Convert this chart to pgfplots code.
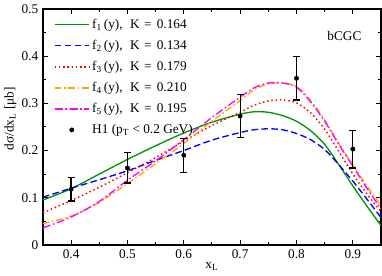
\documentclass[border=0pt]{standalone}
\usepackage{fontspec}
\setmainfont{Liberation Serif}
\usepackage{pgfplots}
\pgfplotsset{compat=1.18}
\definecolor{cgreen}{RGB}{0,150,0}
\definecolor{cblue}{RGB}{0,0,255}
\definecolor{cred}{RGB}{255,0,0}
\definecolor{corange}{RGB}{255,165,0}
\definecolor{cmag}{RGB}{255,0,255}
\newcommand{\lent}[2]{f\textsubscript{#1}\hspace{1.4pt}(y),\hspace{5.7pt}K\hspace{3.2pt}=\hspace{4pt}#2}
\begin{document}
\begin{tikzpicture}
\begin{axis}[
  scale only axis,
  width=254.5pt, height=177.6pt,
  xmin=0.35, xmax=0.95, ymin=0, ymax=0.5,
  xtick={0.4,0.5,0.6,0.7,0.8,0.9},
  ytick={0,0.1,0.2,0.3,0.4,0.5},
  minor x tick num=1, minor y tick num=1,
  tick align=inside,
  major tick length=4pt, minor tick length=2.2pt,
  tick style={black, line width=0.8pt},
  axis line style={line width=1pt},
  /pgf/number format/assume math mode=true,
  xlabel={x\textsubscript{L}},
  ylabel={dσ/dx\textsubscript{L} [μb]},
  xlabel style={yshift=4pt},
  ylabel style={at={(ticklabel cs:0.534)}, yshift=-3pt},
  legend cell align=left,
  legend style={draw=none, fill=none, at={(0.028,0.975)}, anchor=north west, row sep=3.3pt, inner sep=1pt},
  legend image code/.code={\draw[mark repeat=2,mark phase=2,#1] plot coordinates {(0pt,0pt) (12.85pt,0pt) (25.7pt,0pt)};},
]
\addplot[cgreen, line width=1pt, smooth] coordinates {
(0.35,0.095)(0.40,0.119)(0.45,0.150)(0.50,0.181)(0.55,0.210)(0.60,0.237)(0.65,0.260)
(0.70,0.277)(0.725,0.282)(0.75,0.281)(0.775,0.274)(0.80,0.262)(0.825,0.242)(0.85,0.213)
(0.875,0.170)(0.90,0.125)(0.925,0.082)(0.95,0.041)};
\addlegendentry{\lent{1}{0.164}}
\addplot[cblue, line width=1pt, smooth, dash pattern=on 5pt off 2.5pt] coordinates {
(0.35,0.101)(0.40,0.120)(0.45,0.138)(0.50,0.157)(0.55,0.179)(0.60,0.200)(0.65,0.222)
(0.70,0.238)(0.725,0.244)(0.75,0.246)(0.775,0.244)(0.80,0.236)(0.825,0.223)(0.85,0.202)
(0.875,0.170)(0.90,0.135)(0.925,0.097)(0.95,0.058)};
\addlegendentry{\lent{2}{0.134}}
\addplot[cred, line width=1.1pt, smooth, dash pattern=on 1.1pt off 2.1pt] coordinates {
(0.35,0.068)(0.40,0.094)(0.45,0.122)(0.50,0.153)(0.55,0.185)(0.60,0.220)(0.65,0.253)
(0.70,0.281)(0.725,0.296)(0.75,0.305)(0.775,0.307)(0.80,0.301)(0.825,0.280)(0.85,0.245)
(0.875,0.198)(0.90,0.150)(0.925,0.108)(0.95,0.070)};
\addlegendentry{\lent{3}{0.179}}
\addplot[corange, line width=1pt, smooth, dash pattern=on 5pt off 2pt on 1.2pt off 2pt] coordinates {
(0.35,0.045)(0.40,0.061)(0.45,0.090)(0.50,0.130)(0.55,0.172)(0.60,0.215)(0.65,0.262)
(0.70,0.306)(0.725,0.329)(0.75,0.341)(0.775,0.343)(0.80,0.336)(0.825,0.306)(0.85,0.265)
(0.875,0.215)(0.90,0.170)(0.925,0.125)(0.95,0.083)};
\addlegendentry{\lent{4}{0.210}}
\addplot[cmag, line width=1pt, smooth, dash pattern=on 6pt off 2pt on 1.2pt off 2pt] coordinates {
(0.35,0.036)(0.40,0.059)(0.45,0.092)(0.50,0.137)(0.55,0.178)(0.60,0.223)(0.65,0.270)
(0.70,0.313)(0.725,0.333)(0.75,0.343)(0.775,0.343)(0.80,0.334)(0.825,0.303)(0.85,0.262)
(0.875,0.213)(0.90,0.167)(0.925,0.120)(0.95,0.076)};
\addlegendentry{\lent{5}{0.195}}
\addplot[black, only marks, mark=*, mark size=1.6pt,
  error bars/.cd, y dir=both, y explicit,
  error bar style={line width=0.9pt},
  error mark options={rotate=90, mark size=2.6pt, line width=0.9pt}]
  coordinates {
(0.4,0.118) +- (0,0.025)
(0.5,0.163) +- (0,0.032)
(0.6,0.190) +- (0,0.036)
(0.7,0.273) +- (0,0.045)
(0.8,0.353) +- (0,0.046)
(0.9,0.203) +- (0,0.040)};
\addlegendentry{H1 (p\textsubscript{T} < 0.2 GeV)}
\node at (axis cs:0.885,0.442) {bCGC};
\end{axis}
\path (current axis.south west) ++(-29.85pt,-23.1pt);
\path (current axis.north east) ++(0.75pt,3.7pt);
\end{tikzpicture}
\end{document}
